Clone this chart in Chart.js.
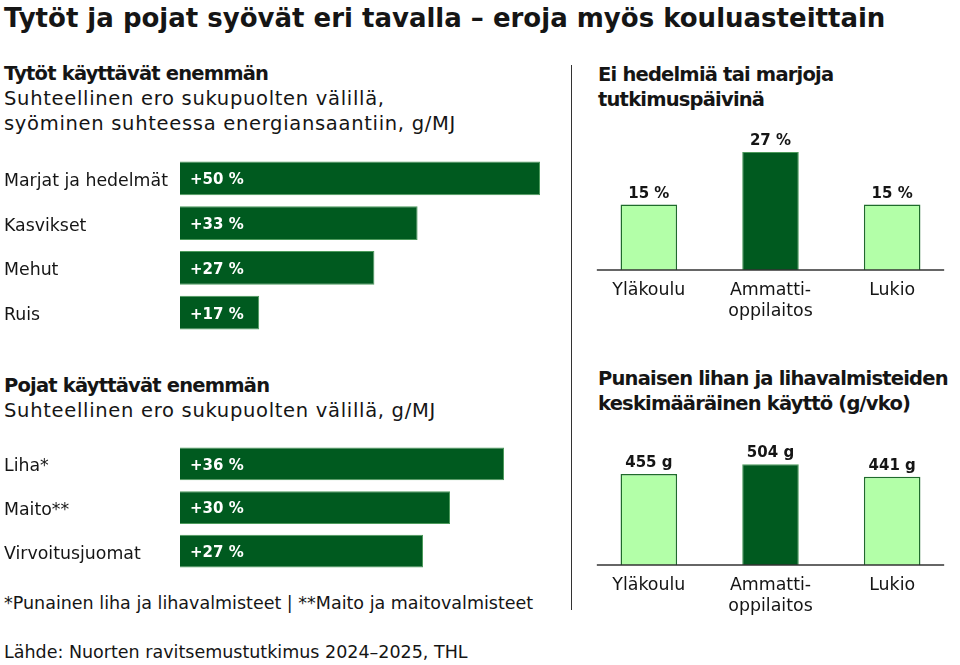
<!DOCTYPE html>
<html lang="fi">
<head>
<meta charset="utf-8">
<script src="https://cdn.jsdelivr.net/npm/chart.js@4.4.1/dist/chart.umd.min.js"></script>
<style>
  html, body { margin: 0; padding: 0; background: #fff; }
  body { width: 960px; height: 665px; position: relative; overflow: hidden;
         font-family: "DejaVu Sans", sans-serif; color: #151515; }
  .t { position: absolute; white-space: nowrap; }
  .title { left: 4px; top: 2px; font-size: 26px; font-weight: 700; line-height: 32px; }
  .h { font-size: 19.5px; font-weight: 700; line-height: 25px; letter-spacing: -0.8px; }
  .s { font-size: 19.5px; font-weight: 400; line-height: 25px; letter-spacing: 0.7px; }
  .note { font-size: 17.5px; line-height: 22px; }
  .box { position: absolute; }
  #divider { position: absolute; left: 571px; top: 65px; width: 1px; height: 545px; background: #333; }
</style>
</head>
<body>
<div class="t title">Tytöt ja pojat syövät eri tavalla – eroja myös kouluasteittain</div>

<div class="t h" style="left:4px;top:61px">Tytöt käyttävät enemmän</div>
<div class="t s" style="left:4px;top:86px">Suhteellinen ero sukupuolten välillä,<br>syöminen suhteessa energiansaantiin, g/MJ</div>

<div class="t h" style="left:4px;top:373px">Pojat käyttävät enemmän</div>
<div class="t s" style="left:4px;top:398px">Suhteellinen ero sukupuolten välillä, g/MJ</div>

<div class="t h" style="left:598px;top:62px">Ei hedelmiä tai marjoja<br>tutkimuspäivinä</div>
<div class="t h" style="left:598px;top:366px">Punaisen lihan ja lihavalmisteiden<br>keskimääräinen käyttö (g/vko)</div>

<div class="t note" style="left:4px;top:592px">*Punainen liha ja lihavalmisteet | **Maito ja maitovalmisteet</div>
<div class="t note" style="left:4px;top:641px">Lähde: Nuorten ravitsemustutkimus 2024–2025, THL</div>

<div id="divider"></div>

<div class="box" style="left:0;top:156px;width:560px;height:179px"><canvas id="girls"></canvas></div>
<div class="box" style="left:0;top:442px;width:560px;height:131px"><canvas id="boys"></canvas></div>
<div class="box" style="left:580px;top:120px;width:380px;height:210px"><canvas id="fruit"></canvas></div>
<div class="box" style="left:580px;top:430px;width:380px;height:195px"><canvas id="meat"></canvas></div>

<script>
// --- data ---
const girlsCats = ['Marjat ja hedelmät', 'Kasvikset', 'Mehut', 'Ruis'];
const girlsValues = [50, 33, 27, 17];      // printed labels (%)
const girlsBarLen = [50, 33, 27, 11];      // bar lengths as drawn (Ruis bar is drawn shorter)

const boysCats = ['Liha*', 'Maito**', 'Virvoitusjuomat'];
const boysValues = [36, 30, 27];

const schoolCats = [['Yläkoulu'], ['Ammatti-', 'oppilaitos'], ['Lukio']];
const noFruitPct = [15, 27, 15];
const meatGrams = [455, 504, 441];

const DARK = '#005a1f';
const LIGHT = '#b3ffa8';
const FONT = '"DejaVu Sans", sans-serif';
const TEXT = '#151515';

Chart.defaults.font.family = FONT;
Chart.defaults.color = TEXT;

// labels inside the horizontal bars
const insideLabels = {
  id: 'insideLabels',
  afterDatasetsDraw(chart, args, opts) {
    const ctx = chart.ctx;
    const meta = chart.getDatasetMeta(0);
    ctx.save();
    ctx.font = '700 15px ' + FONT;
    ctx.fillStyle = '#fff';
    ctx.textAlign = 'left';
    ctx.textBaseline = 'middle';
    meta.data.forEach((bar, i) => {
      ctx.fillText('+' + opts.values[i] + ' %', bar.base + 10, bar.y + 2);
    });
    ctx.restore();
  }
};

// labels above the vertical bars + short baseline
const topLabels = {
  id: 'topLabels',
  afterDatasetsDraw(chart, args, opts) {
    const ctx = chart.ctx;
    const meta = chart.getDatasetMeta(0);
    const y0 = chart.scales.y.getPixelForValue(0);
    const first = meta.data[0].x, last = meta.data[meta.data.length - 1].x;
    ctx.save();
    ctx.strokeStyle = '#333';
    ctx.lineWidth = 1.5;
    ctx.beginPath();
    ctx.moveTo(first - 52, y0);
    ctx.lineTo(last + 52, y0);
    ctx.stroke();
    ctx.font = '700 15px ' + FONT;
    ctx.fillStyle = TEXT;
    ctx.textAlign = 'center';
    ctx.textBaseline = 'alphabetic';
    meta.data.forEach((bar, i) => {
      ctx.fillText(opts.values[i] + opts.unit, bar.x, bar.y - 7);
    });
    ctx.restore();
  }
};

function hbar(id, cats, lengths, values, max) {
  return new Chart(document.getElementById(id), {
    type: 'bar',
    data: {
      labels: cats,
      datasets: [{
        data: lengths,
        backgroundColor: DARK,
        borderColor: '#4d9a5c',
        borderWidth: 1,
        categoryPercentage: 1,
        barPercentage: 0.75
      }]
    },
    options: {
      indexAxis: 'y',
      responsive: true,
      maintainAspectRatio: false,
      animation: false,
      layout: { padding: { left: 4, right: 20, top: 0, bottom: 0 } },
      plugins: { legend: { display: false }, tooltip: { enabled: false },
                 insideLabels: { values: values } },
      scales: {
        x: { display: false, min: 0, max: max },
        y: {
          grid: { display: false, drawTicks: false },
          border: { display: false },
          ticks: { crossAlign: 'far', padding: 0, labelOffset: 3, color: TEXT, font: { size: 17.35 } },
          afterFit(scale) {
            scale.width = 176;
            scale.paddingTop = 0;
            scale.paddingBottom = 0;
          }
        }
      }
    },
    plugins: [insideLabels]
  });
}

function vbar(id, values, unit, max, padTop) {
  return new Chart(document.getElementById(id), {
    type: 'bar',
    data: {
      labels: schoolCats,
      datasets: [{
        data: values,
        backgroundColor: [LIGHT, DARK, LIGHT],
        borderColor: ['#1f6b2c', '#4d9a5c', '#1f6b2c'],
        borderWidth: [1.5, 1, 1.5],
        borderSkipped: 'bottom',
        categoryPercentage: 1,
        barPercentage: 0.465
      }]
    },
    options: {
      responsive: true,
      maintainAspectRatio: false,
      animation: false,
      layout: { padding: { left: 8, right: 7, top: padTop, bottom: 0 } },
      plugins: { legend: { display: false }, tooltip: { enabled: false },
                 topLabels: { values: values, unit: unit } },
      scales: {
        y: { display: false, min: 0, max: max },
        x: {
          grid: { display: false, drawTicks: false },
          border: { display: false },
          ticks: { padding: 10, color: TEXT, font: { size: 17.4, lineHeight: 1.22 }, maxRotation: 0 },
          afterFit(scale) { scale.height = 60; }
        }
      }
    },
    plugins: [topLabels]
  });
}

hbar('girls', girlsCats, girlsBarLen, girlsValues, 50);
hbar('boys', boysCats, boysValues, boysValues, 40);
vbar('fruit', noFruitPct, ' %', 30, 19);
vbar('meat', meatGrams, ' g', 600, 15);
</script>
</body>
</html>
